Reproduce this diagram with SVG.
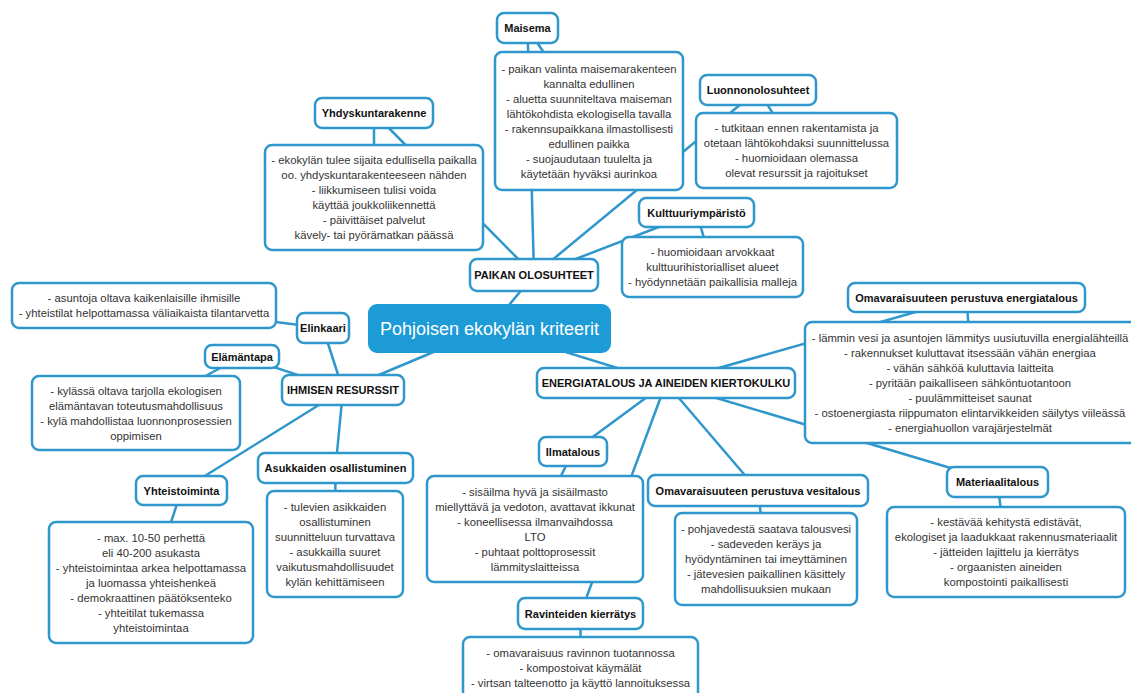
<svg xmlns="http://www.w3.org/2000/svg" width="1131" height="693" viewBox="0 0 1131 693">
<style>
.bg{fill:#ffffff}
.ln{stroke:#2f97cb;stroke-width:2.5;fill:none;stroke-linecap:round}
.box{fill:#ffffff;stroke:#2f97cb;stroke-width:2.5}
.root{fill:#1d9bd7;stroke:#1d9bd7;stroke-width:2}
.lbl{font-family:"Liberation Sans",Arial,sans-serif;font-size:11px;font-weight:bold;fill:#111111;text-anchor:middle}
.txt{font-family:"Liberation Sans",Arial,sans-serif;font-size:11.3px;fill:#333333;text-anchor:middle}
.rt{font-family:"Liberation Sans",Arial,sans-serif;font-size:18px;fill:#ffffff;text-anchor:middle}
</style>
<rect class="bg" x="0" y="0" width="1131" height="693"/>
<g id="connectors">
<line class="ln" x1="489.5" y1="328.5" x2="534" y2="275"/>
<line class="ln" x1="534" y1="275" x2="374" y2="113"/>
<line class="ln" x1="374" y1="113" x2="374" y2="197.5"/>
<line class="ln" x1="534" y1="275" x2="527.5" y2="28"/>
<line class="ln" x1="527.5" y1="28" x2="589" y2="121"/>
<line class="ln" x1="534" y1="275" x2="758" y2="90"/>
<line class="ln" x1="758" y1="90" x2="796.5" y2="150.5"/>
<line class="ln" x1="534" y1="275" x2="696.5" y2="212.5"/>
<line class="ln" x1="696.5" y1="212.5" x2="712.5" y2="267"/>
<line class="ln" x1="489.5" y1="328.5" x2="343" y2="390"/>
<line class="ln" x1="343" y1="390" x2="323" y2="328"/>
<line class="ln" x1="323" y1="328" x2="144" y2="305.5"/>
<line class="ln" x1="343" y1="390" x2="242" y2="356.5"/>
<line class="ln" x1="242" y1="356.5" x2="136" y2="413"/>
<line class="ln" x1="343" y1="390" x2="181.5" y2="490.5"/>
<line class="ln" x1="181.5" y1="490.5" x2="151" y2="582.5"/>
<line class="ln" x1="343" y1="390" x2="335.5" y2="468"/>
<line class="ln" x1="335.5" y1="468" x2="335" y2="544"/>
<line class="ln" x1="489.5" y1="328.5" x2="666" y2="383"/>
<line class="ln" x1="666" y1="383" x2="966.5" y2="297.5"/>
<line class="ln" x1="966.5" y1="297.5" x2="972.5" y2="382.5"/>
<line class="ln" x1="666" y1="383" x2="573" y2="451.5"/>
<line class="ln" x1="573" y1="451.5" x2="535" y2="529"/>
<line class="ln" x1="666" y1="383" x2="758" y2="490.5"/>
<line class="ln" x1="758" y1="490.5" x2="766" y2="559"/>
<line class="ln" x1="666" y1="383" x2="580.5" y2="613.5"/>
<line class="ln" x1="580.5" y1="613.5" x2="580.5" y2="667"/>
<line class="ln" x1="666" y1="383" x2="997.5" y2="482"/>
<line class="ln" x1="997.5" y1="482" x2="1006" y2="552"/>
</g>

<g id="root">
<rect class="root" x="369" y="305" width="241" height="47" rx="8"/>
<text class="rt" x="489.5" y="335">Pohjoisen ekokylän kriteerit</text>
</g>

<g id="paikan">
<rect class="box" x="470" y="259" width="128" height="32" rx="7"/>
<text class="lbl" x="534" y="279">PAIKAN OLOSUHTEET</text>
</g>
<g id="yhd-label">
<rect class="box" x="315" y="98" width="118" height="30" rx="7"/>
<text class="lbl" x="374" y="117">Yhdyskuntarakenne</text>
</g>
<g id="yhd-content">
<rect class="box" x="265" y="145" width="218" height="105" rx="7"/>
<text class="txt" x="374" y="164"><tspan x="374">- ekokylän tulee sijaita edullisella paikalla</tspan><tspan x="374" dy="15">oo. yhdyskuntarakenteeseen nähden</tspan><tspan x="374" dy="15">- liikkumiseen tulisi voida</tspan><tspan x="374" dy="15">käyttää joukkoliikennettä</tspan><tspan x="374" dy="15">- päivittäiset palvelut</tspan><tspan x="374" dy="15">kävely- tai pyörämatkan päässä</tspan></text>
</g>
<g id="mai-label">
<rect class="box" x="497" y="13" width="61" height="30" rx="7"/>
<text class="lbl" x="527.5" y="32">Maisema</text>
</g>
<g id="mai-content">
<rect class="box" x="495" y="52" width="188" height="138" rx="7"/>
<text class="txt" x="589" y="72.5"><tspan x="589">- paikan valinta maisemarakenteen</tspan><tspan x="589" dy="15">kannalta edullinen</tspan><tspan x="589" dy="15">- aluetta suunniteltava maiseman</tspan><tspan x="589" dy="15">lähtökohdista ekologisella tavalla</tspan><tspan x="589" dy="15">- rakennsupaikkana ilmastollisesti</tspan><tspan x="589" dy="15">edullinen paikka</tspan><tspan x="589" dy="15">- suojaudutaan tuulelta ja</tspan><tspan x="589" dy="15">käytetään hyväksi aurinkoa</tspan></text>
</g>
<g id="luo-label">
<rect class="box" x="700" y="75" width="116" height="30" rx="7"/>
<text class="lbl" x="758" y="94">Luonnonolosuhteet</text>
</g>
<g id="luo-content">
<rect class="box" x="696" y="113" width="201" height="75" rx="7"/>
<text class="txt" x="796.5" y="132"><tspan x="796.5">- tutkitaan ennen rakentamista ja</tspan><tspan x="796.5" dy="15">otetaan lähtökohdaksi suunnittelussa</tspan><tspan x="796.5" dy="15">- huomioidaan olemassa</tspan><tspan x="796.5" dy="15">olevat resurssit ja rajoitukset</tspan></text>
</g>
<g id="kul-label">
<rect class="box" x="639" y="198" width="115" height="29" rx="7"/>
<text class="lbl" x="696.5" y="216.5">Kulttuuriympäristö</text>
</g>
<g id="kul-content">
<rect class="box" x="622" y="237" width="181" height="60" rx="7"/>
<text class="txt" x="712.5" y="256"><tspan x="712.5">- huomioidaan arvokkaat</tspan><tspan x="712.5" dy="15">kulttuurihistorialliset alueet</tspan><tspan x="712.5" dy="15">- hyödynnetään paikallisia malleja</tspan></text>
</g>

<g id="ihmisen">
<rect class="box" x="282" y="375" width="122" height="30" rx="7"/>
<text class="lbl" x="343" y="394">IHMISEN RESURSSIT</text>
</g>
<g id="eli-label">
<rect class="box" x="297" y="313" width="52" height="30" rx="7"/>
<text class="lbl" x="323" y="332">Elinkaari</text>
</g>
<g id="eli-content">
<rect class="box" x="12" y="283" width="264" height="45" rx="7"/>
<text class="txt" x="144" y="302"><tspan x="144">- asuntoja oltava kaikenlaisille ihmisille</tspan><tspan x="144" dy="15">- yhteistilat helpottamassa väliaikaista tilantarvetta</tspan></text>
</g>
<g id="ela-label">
<rect class="box" x="205" y="345" width="74" height="23" rx="7"/>
<text class="lbl" x="242" y="360.5">Elämäntapa</text>
</g>
<g id="ela-content">
<rect class="box" x="32" y="376" width="208" height="74" rx="7"/>
<text class="txt" x="136" y="394.5"><tspan x="136">- kylässä oltava tarjolla ekologisen</tspan><tspan x="136" dy="15">elämäntavan toteutusmahdollisuus</tspan><tspan x="136" dy="15">- kylä mahdollistaa luonnonprosessien</tspan><tspan x="136" dy="15">oppimisen</tspan></text>
</g>
<g id="yht-label">
<rect class="box" x="136" y="476" width="91" height="29" rx="7"/>
<text class="lbl" x="181.5" y="494.5">Yhteistoiminta</text>
</g>
<g id="yht-content">
<rect class="box" x="49" y="522" width="204" height="121" rx="7"/>
<text class="txt" x="151" y="541.5"><tspan x="151">- max. 10-50 perhettä</tspan><tspan x="151" dy="15">eli 40-200 asukasta</tspan><tspan x="151" dy="15">- yhteistoimintaa arkea helpottamassa</tspan><tspan x="151" dy="15">ja luomassa yhteishenkeä</tspan><tspan x="151" dy="15">- demokraattinen päätöksenteko</tspan><tspan x="151" dy="15">- yhteitilat tukemassa</tspan><tspan x="151" dy="15">yhteistoimintaa</tspan></text>
</g>
<g id="asu-label">
<rect class="box" x="258" y="453" width="155" height="30" rx="7"/>
<text class="lbl" x="335.5" y="472">Asukkaiden osallistuminen</text>
</g>
<g id="asu-content">
<rect class="box" x="267" y="491" width="136" height="106" rx="7"/>
<text class="txt" x="335" y="510.5"><tspan x="335">- tulevien asikkaiden</tspan><tspan x="335" dy="15">osallistuminen</tspan><tspan x="335" dy="15">suunnitteluun turvattava</tspan><tspan x="335" dy="15">- asukkailla suuret</tspan><tspan x="335" dy="15">vaikutusmahdollisuudet</tspan><tspan x="335" dy="15">kylän kehittämiseen</tspan></text>
</g>

<g id="energia">
<rect class="box" x="537" y="368" width="258" height="30" rx="7"/>
<text class="lbl" x="666" y="387">ENERGIATALOUS JA AINEIDEN KIERTOKULKU</text>
</g>
<g id="oen-label">
<rect class="box" x="848" y="283" width="237" height="29" rx="7"/>
<text class="lbl" x="966.5" y="301.5">Omavaraisuuteen perustuva energiatalous</text>
</g>
<g id="oen-content">
<rect class="box" x="805" y="322" width="340" height="121" rx="7"/>
<text class="txt" x="970" y="341.5"><tspan x="970">- lämmin vesi ja asuntojen lämmitys uusiutuvilla energialähteillä</tspan><tspan x="970" dy="15">- rakennukset kuluttavat itsessään vähän energiaa</tspan><tspan x="970" dy="15">- vähän sähköä kuluttavia laitteita</tspan><tspan x="970" dy="15">- pyritään paikalliseen sähköntuotantoon</tspan><tspan x="970" dy="15">- puulämmitteiset saunat</tspan><tspan x="970" dy="15">- ostoenergiasta riippumaton elintarvikkeiden säilytys viileässä</tspan><tspan x="970" dy="15">- energiahuollon varajärjestelmät</tspan></text>
</g>
<g id="ilm-label">
<rect class="box" x="539" y="437" width="68" height="29" rx="7"/>
<text class="lbl" x="573" y="455.5">Ilmatalous</text>
</g>
<g id="ilm-content">
<rect class="box" x="427" y="476" width="216" height="106" rx="7"/>
<text class="txt" x="535" y="495.5"><tspan x="535">- sisäilma hyvä ja sisäilmasto</tspan><tspan x="535" dy="15">miellyttävä ja vedoton, avattavat ikkunat</tspan><tspan x="535" dy="15">- koneellisessa ilmanvaihdossa</tspan><tspan x="535" dy="15">LTO</tspan><tspan x="535" dy="15">- puhtaat polttoprosessit</tspan><tspan x="535" dy="15">lämmityslaitteissa</tspan></text>
</g>
<g id="ves-label">
<rect class="box" x="648" y="475" width="220" height="31" rx="7"/>
<text class="lbl" x="758" y="494.5">Omavaraisuuteen perustuva vesitalous</text>
</g>
<g id="ves-content">
<rect class="box" x="675" y="513" width="182" height="92" rx="7"/>
<text class="txt" x="766" y="533"><tspan x="766">- pohjavedestä saatava talousvesi</tspan><tspan x="766" dy="15">- sadeveden keräys ja</tspan><tspan x="766" dy="15">hyödyntäminen tai imeyttäminen</tspan><tspan x="766" dy="15">- jätevesien paikallinen käsittely</tspan><tspan x="766" dy="15">mahdollisuuksien mukaan</tspan></text>
</g>
<g id="rav-label">
<rect class="box" x="518" y="598" width="125" height="31" rx="7"/>
<text class="lbl" x="580.5" y="617.5">Ravinteiden kierrätys</text>
</g>
<g id="rav-content">
<rect class="box" x="463" y="637" width="235" height="66" rx="7"/>
<text class="txt" x="580.5" y="657"><tspan x="580.5">- omavaraisuus ravinnon tuotannossa</tspan><tspan x="580.5" dy="15">- kompostoivat käymälät</tspan><tspan x="580.5" dy="15">- virtsan talteenotto ja käyttö lannoituksessa</tspan></text>
</g>
<g id="mat-label">
<rect class="box" x="947" y="467" width="101" height="30" rx="7"/>
<text class="lbl" x="997.5" y="486">Materiaalitalous</text>
</g>
<g id="mat-content">
<rect class="box" x="887" y="507" width="238" height="90" rx="7"/>
<text class="txt" x="1006" y="526"><tspan x="1006">- kestävää kehitystä edistävät,</tspan><tspan x="1006" dy="15">ekologiset ja laadukkaat rakennusmateriaalit</tspan><tspan x="1006" dy="15">- jätteiden lajittelu ja kierrätys</tspan><tspan x="1006" dy="15">- orgaanisten aineiden</tspan><tspan x="1006" dy="15">kompostointi paikallisesti</tspan></text>
</g>
</svg>
